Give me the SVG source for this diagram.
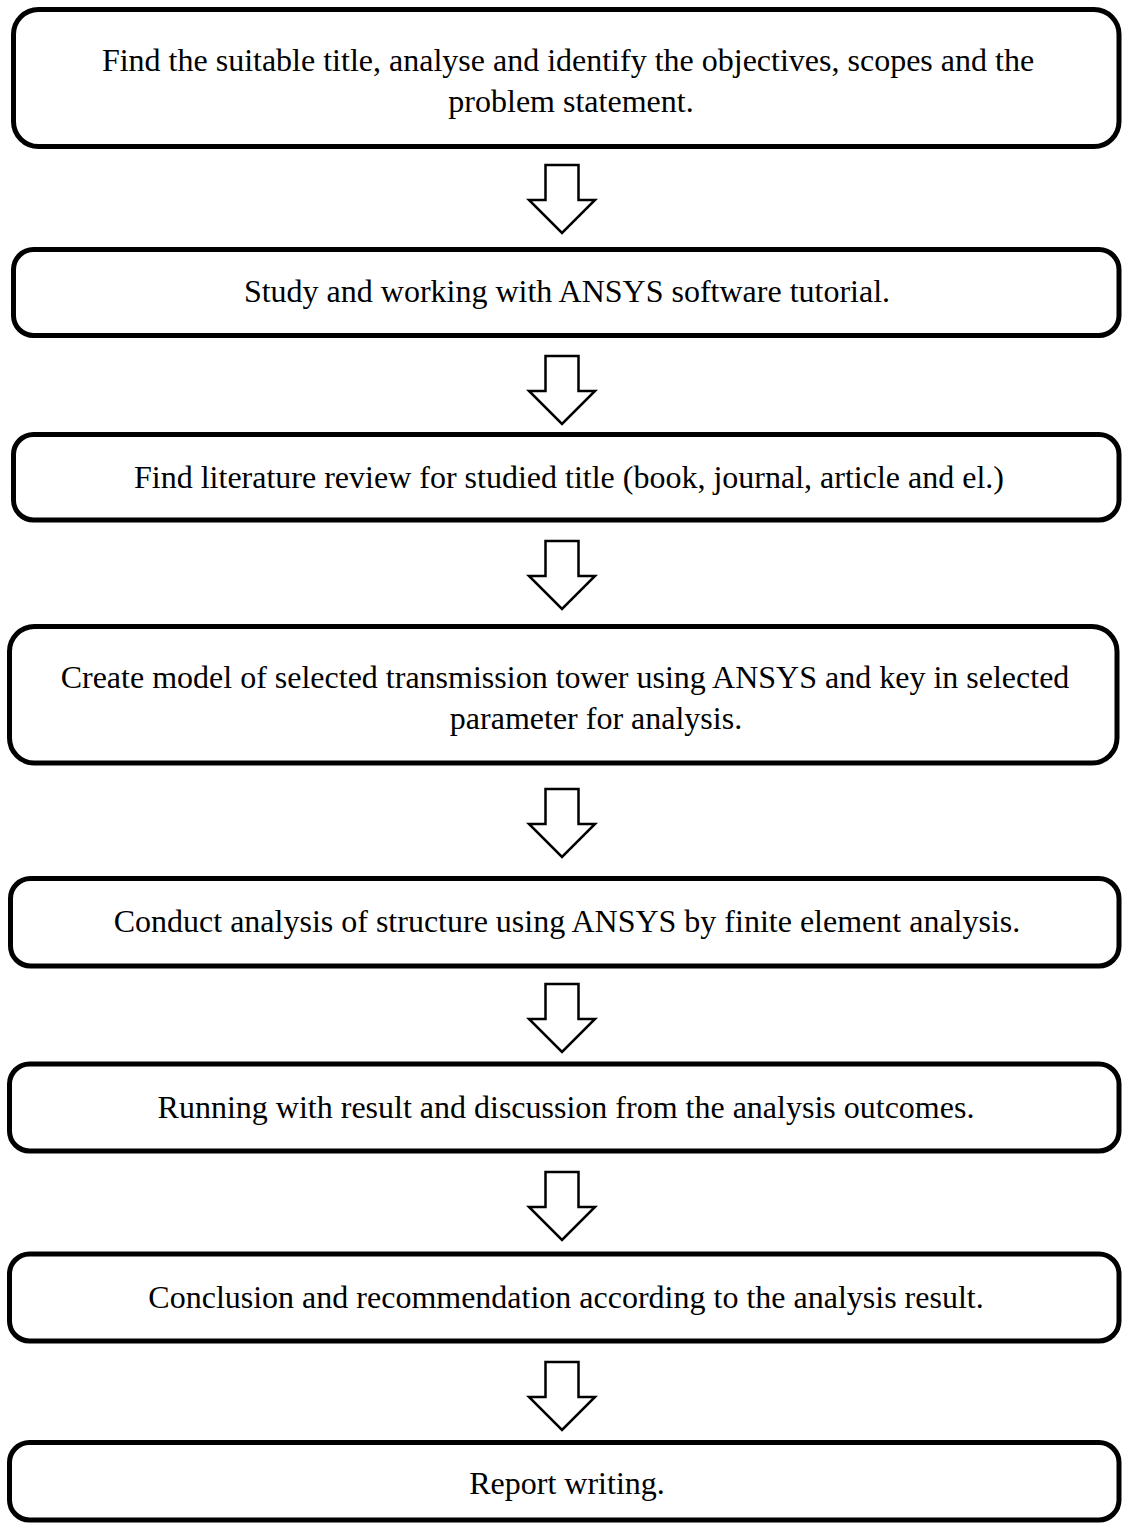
<svg xmlns="http://www.w3.org/2000/svg" width="1122" height="1524" viewBox="0 0 1122 1524">
<style>
.box{fill:#fff;stroke:#000;stroke-width:5}
.arr{fill:#fff;stroke:#000;stroke-width:2.5;stroke-linejoin:miter}
text{font-family:"Liberation Serif","Times New Roman",serif;font-size:32px;fill:#000;text-anchor:middle}
</style>
<rect width="1122" height="1524" fill="#fff"/>
<g id="connectors">
<path class="arr" transform="translate(562,165)" d="M-16.5,0 H16.5 V35 H33 L0,68 L-33,35 H-16.5 Z"/>
<path class="arr" transform="translate(562,356)" d="M-16.5,0 H16.5 V35 H33 L0,68 L-33,35 H-16.5 Z"/>
<path class="arr" transform="translate(562,541)" d="M-16.5,0 H16.5 V35 H33 L0,68 L-33,35 H-16.5 Z"/>
<path class="arr" transform="translate(562,789)" d="M-16.5,0 H16.5 V35 H33 L0,68 L-33,35 H-16.5 Z"/>
<path class="arr" transform="translate(562,984)" d="M-16.5,0 H16.5 V35 H33 L0,68 L-33,35 H-16.5 Z"/>
<path class="arr" transform="translate(562,1172)" d="M-16.5,0 H16.5 V35 H33 L0,68 L-33,35 H-16.5 Z"/>
<path class="arr" transform="translate(562,1362)" d="M-16.5,0 H16.5 V35 H33 L0,68 L-33,35 H-16.5 Z"/>
</g>
<g id="n1"><rect class="box" x="13.5" y="9.5" width="1105.5" height="137" rx="25"/>
<text x="568" y="71">Find the suitable title, analyse and identify the objectives, scopes and the</text>
<text x="571" y="112">problem statement.</text></g>
<g id="n2"><rect class="box" x="13.5" y="249.5" width="1105.5" height="86" rx="20"/>
<text x="567" y="302">Study and working with ANSYS software tutorial.</text></g>
<g id="n3"><rect class="box" x="13.5" y="434.5" width="1105.5" height="85.5" rx="20"/>
<text x="569" y="488">Find literature review for studied title (book, journal, article and el.)</text></g>
<g id="n4"><rect class="box" x="9.5" y="626.5" width="1107.5" height="136.5" rx="25"/>
<text x="565" y="688">Create model of selected transmission tower using ANSYS and key in selected</text>
<text x="596" y="729">parameter for analysis.</text></g>
<g id="n5"><rect class="box" x="10.5" y="878.5" width="1108.5" height="87.5" rx="20"/>
<text x="567" y="932">Conduct analysis of structure using ANSYS by finite element analysis.</text></g>
<g id="n6"><rect class="box" x="9.5" y="1064" width="1109.5" height="87" rx="20"/>
<text x="566" y="1118">Running with result and discussion from the analysis outcomes.</text></g>
<g id="n7"><rect class="box" x="9.5" y="1254" width="1109.5" height="87" rx="20"/>
<text x="566" y="1308">Conclusion and recommendation according to the analysis result.</text></g>
<g id="n8"><rect class="box" x="9.5" y="1442.5" width="1109.5" height="77.5" rx="20"/>
<text x="567" y="1494">Report writing.</text></g>
</svg>
